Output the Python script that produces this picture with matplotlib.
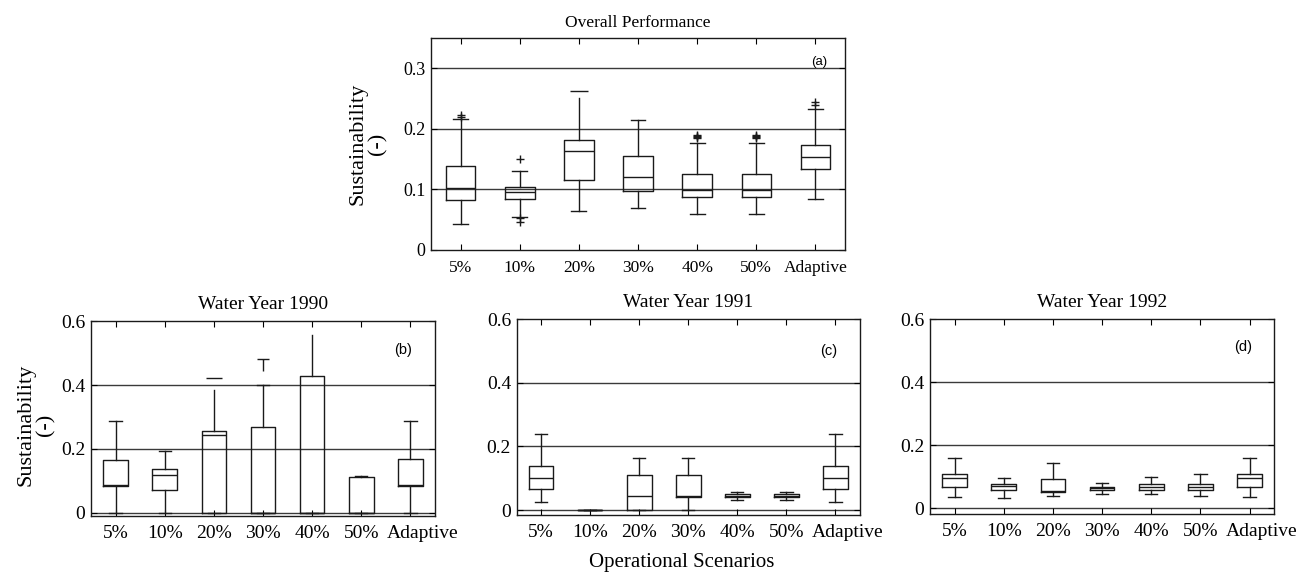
import matplotlib
matplotlib.use("Agg")
import matplotlib.pyplot as plt
import matplotlib.transforms as mtransforms
from matplotlib.path import Path

categories = ["5%", "10%", "20%", "30%", "40%", "50%", "Adaptive"]

# Panel (a) Overall Performance
a_whislo = [0.043, 0.055, 0.064, 0.070, 0.060, 0.060, 0.084]
a_q1 = [0.082, 0.084, 0.115, 0.098, 0.088, 0.088, 0.133]
a_med = [0.103, 0.095, 0.163, 0.121, 0.099, 0.099, 0.153]
a_q3 = [0.138, 0.104, 0.182, 0.155, 0.126, 0.126, 0.174]
a_whishi = [0.217, 0.131, 0.251, 0.214, 0.177, 0.177, 0.232]
a_fliers = [[0.220, 0.223], [0.151, 0.052, 0.046], [0.263], [],
            [0.185, 0.187, 0.189, 0.190], [0.185, 0.187, 0.189, 0.190],
            [0.240, 0.245]]

# Panel (b) Water Year 1990
b_whislo = [0, 0, 0, 0, 0, 0, 0]
b_q1 = [0.084, 0.072, 0, 0, 0, 0, 0.084]
b_med = [0.087, 0.118, 0.243, 0, 0, 0, 0.087]
b_q3 = [0.166, 0.137, 0.255, 0.270, 0.427, 0.111, 0.170]
b_whishi = [0.286, 0.193, 0.386, 0.400, 0.558, 0.114, 0.286]
b_fliers = [[], [], [0.422], [0.463], [], [], []]

# Panel (c) Water Year 1991
c_whislo = [0.027, 0.002, 0, 0, 0.031, 0.031, 0.027]
c_q1 = [0.065, 0.002, 0, 0.040, 0.042, 0.042, 0.065]
c_med = [0.102, 0.002, 0.043, 0.046, 0.046, 0.046, 0.102]
c_q3 = [0.139, 0.002, 0.109, 0.109, 0.050, 0.050, 0.139]
c_whishi = [0.239, 0.002, 0.165, 0.165, 0.056, 0.056, 0.239]

# Panel (d) Water Year 1992
d_whislo = [0.036, 0.032, 0.040, 0.046, 0.044, 0.040, 0.036]
d_q1 = [0.067, 0.059, 0.053, 0.059, 0.059, 0.059, 0.067]
d_med = [0.095, 0.071, 0.056, 0.063, 0.067, 0.067, 0.095]
d_q3 = [0.108, 0.077, 0.092, 0.067, 0.077, 0.077, 0.108]
d_whishi = [0.161, 0.097, 0.145, 0.081, 0.100, 0.108, 0.161]

SERIF = "Liberation Serif"
SANS = "Liberation Sans"
LC = "#1a1a1a"

fig = plt.figure(figsize=(13.03, 5.76), dpi=100)

T_marker = Path([(-1, 1), (1, 1), (0, 1), (0, -1)],
                [Path.MOVETO, Path.LINETO, Path.MOVETO, Path.LINETO])


def draw(ax, whislo, q1, med, q3, whishi, fliers=None, ylim=(0, 0.6),
         yticks=(0, 0.2, 0.4, 0.6), grid=(0, 0.2, 0.4), title="", tag="",
         tagpos=(6.85, 0.51), xfs=14, yfs=14, tfs=14, tagfs=10.5, xpad=6.5,
         tpad=9, last_shift=0.12):
    n = len(categories)
    if fliers is None:
        fliers = [[] for _ in range(n)]
    stats = []
    for i in range(n):
        stats.append(dict(whislo=whislo[i], q1=q1[i], med=med[i], q3=q3[i],
                          whishi=whishi[i], fliers=fliers[i]))
    for g in grid:
        ax.axhline(g, color="#3a3a3a", lw=1.0, zorder=1)
    pos = list(range(1, n + 1))
    res = ax.bxp(stats, positions=pos, widths=0.5, showfliers=True,
                 boxprops=dict(color=LC, lw=1.0),
                 medianprops=dict(color=LC, lw=1.0),
                 whiskerprops=dict(color=LC, lw=1.0, linestyle="-"),
                 capprops=dict(color=LC, lw=1.0),
                 flierprops=dict(marker="+", markeredgecolor=LC,
                                 markerfacecolor="none", markersize=6,
                                 markeredgewidth=1.0, linestyle="none"))
    ax.set_xlim(0.5, 7.5)
    ax.set_ylim(*ylim)
    ax.set_xticks(pos)
    ax.set_yticks(yticks)
    ax.tick_params(direction="in", top=True, right=True, length=4,
                   width=0.8)
    ax.tick_params(axis="x", pad=xpad)
    ax.tick_params(axis="y", pad=4)
    labels = ax.set_xticklabels(categories, fontfamily=SERIF, fontsize=xfs)
    ax.set_yticklabels(["0" if v == 0 else f"{v:g}" for v in yticks],
                       fontfamily=SERIF, fontsize=yfs)
    if last_shift:
        off = mtransforms.ScaledTranslation(last_shift, 0, fig.dpi_scale_trans)
        labels[-1].set_transform(labels[-1].get_transform() + off)
    for s in ax.spines.values():
        s.set_linewidth(1.0)
        s.set_color(LC)
    ax.set_title(title, fontfamily=SERIF, fontsize=tfs, pad=tpad)
    ax.text(tagpos[0], tagpos[1], tag, fontfamily=SANS, fontsize=tagfs,
            ha="center", va="center")
    return res


# (a)
ax_a = fig.add_axes([0.3308, 0.566, 0.3177, 0.368])
ra = draw(ax_a, a_whislo, a_q1, a_med, a_q3, a_whishi, a_fliers,
          ylim=(0, 0.35), yticks=(0, 0.1, 0.2, 0.3), grid=(0.1, 0.2, 0.3),
          title="Overall Performance", tag="(a)", tagpos=(7.07, 0.31),
          xfs=12.5, yfs=13, tfs=12.5, tagfs=9.5, xpad=7, tpad=8,
          last_shift=0)
ra["caps"][2 * 2 + 1].set_visible(False)
ra["fliers"][2].set_marker("_")
ra["fliers"][2].set_markersize(13)
ax_a.set_ylabel("Sustainability\n(-)", fontfamily=SERIF, fontsize=16,
                linespacing=1.05)
ax_a.yaxis.set_label_coords(-0.105, 0.5)

# (b)
ax_b = fig.add_axes([0.0698, 0.104, 0.264, 0.3385])
rb = draw(ax_b, b_whislo, b_q1, b_med, b_q3, b_whishi, b_fliers,
          ylim=(-0.01, 0.6), title="Water Year 1990", tag="(b)")
rb["caps"][2 * 2 + 1].set_visible(False)
rb["caps"][4 * 2 + 1].set_visible(False)
rb["fliers"][2].set_marker("_")
rb["fliers"][2].set_markersize(12)
rb["fliers"][3].set_marker(T_marker)
rb["fliers"][3].set_markersize(8.5)
ax_b.set_ylabel("Sustainability\n(-)", fontfamily=SERIF, fontsize=16,
                linespacing=1.05)
ax_b.yaxis.set_label_coords(-0.102, 0.47)

# (c)
ax_c = fig.add_axes([0.3965, 0.106, 0.2635, 0.340])
draw(ax_c, c_whislo, c_q1, c_med, c_q3, c_whishi,
     ylim=(-0.015, 0.6), title="Water Year 1991", tag="(c)", tagpos=(6.86, 0.50))

# (d)
ax_d = fig.add_axes([0.7137, 0.1076, 0.2642, 0.3385])
draw(ax_d, d_whislo, d_q1, d_med, d_q3, d_whishi,
     ylim=(-0.018, 0.6), title="Water Year 1992", tag="(d)", tagpos=(6.87, 0.51))

fig.text(682 / 1303, 1 - 562 / 576, "Operational Scenarios", fontfamily=SERIF,
         fontsize=15, ha="center", va="center")

fig.savefig("out.png", dpi=100)
